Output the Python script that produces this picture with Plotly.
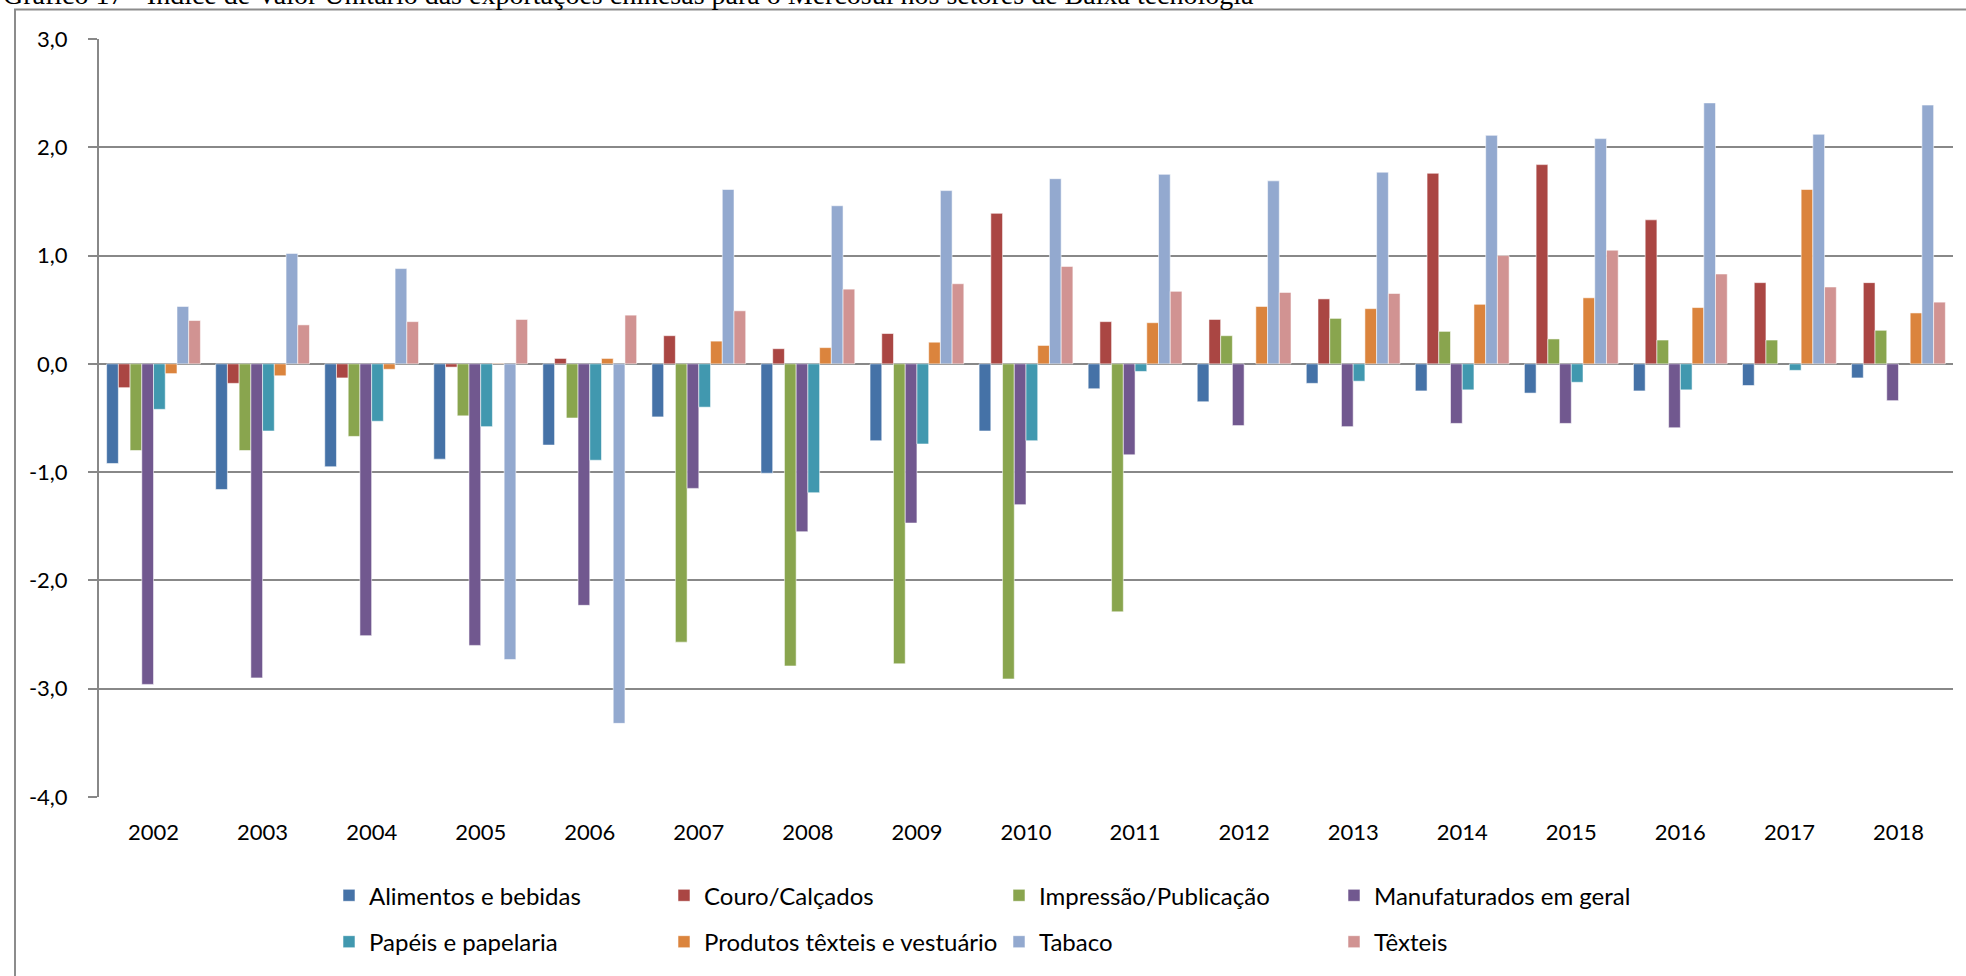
import plotly.graph_objects as go

years = [str(y) for y in range(2002, 2019)]

series_names = [
    "Alimentos e bebidas", "Couro/Calçados", "Impressão/Publicação", "Manufaturados em geral",
    "Papéis e papelaria", "Produtos têxteis e vestuário", "Tabaco", "Têxteis",
]

alimentos = [-0.92, -1.16, -0.95, -0.88, -0.75, -0.49, -1.01, -0.71, -0.62, -0.23, -0.35, -0.18, -0.25, -0.27, -0.25, -0.20, -0.13]
couro = [-0.22, -0.18, -0.13, -0.03, 0.05, 0.26, 0.14, 0.28, 1.39, 0.39, 0.41, 0.60, 1.76, 1.84, 1.33, 0.75, 0.75]
impressao = [-0.80, -0.80, -0.67, -0.48, -0.50, -2.57, -2.79, -2.77, -2.91, -2.29, 0.26, 0.42, 0.30, 0.23, 0.22, 0.22, 0.31]
manufaturados = [-2.96, -2.90, -2.51, -2.60, -2.23, -1.15, -1.55, -1.47, -1.30, -0.84, -0.57, -0.58, -0.55, -0.55, -0.59, None, -0.34]
papeis = [-0.42, -0.62, -0.53, -0.58, -0.89, -0.40, -1.19, -0.74, -0.71, -0.07, None, -0.16, -0.24, -0.17, -0.24, -0.06, None]
produtos_texteis = [-0.09, -0.11, -0.05, 0.005, 0.05, 0.21, 0.15, 0.20, 0.17, 0.38, 0.53, 0.51, 0.55, 0.61, 0.52, 1.61, 0.47]
tabaco = [0.53, 1.02, 0.88, -2.73, -3.32, 1.61, 1.46, 1.60, 1.71, 1.75, 1.69, 1.77, 2.11, 2.08, 2.41, 2.12, 2.39]
texteis = [0.40, 0.36, 0.39, 0.41, 0.45, 0.49, 0.69, 0.74, 0.90, 0.67, 0.66, 0.65, 1.00, 1.05, 0.83, 0.71, 0.57]

y_tick_values = [-4, -3, -2, -1, 0, 1, 2, 3]
y_tick_labels = [f"{v:.1f}".replace(".", ",") for v in y_tick_values]

values = [alimentos, couro, impressao, manufaturados, papeis, produtos_texteis, tabaco, texteis]
colors = ["#4572A7", "#AA4643", "#89A54E", "#71588F", "#4198AF", "#DB843D", "#93A9CF", "#D19392"]

title_text = ("Gráfico 17 - Índice de Valor Unitário das exportações chinesas para o Mercosul "
              "nos setores de Baixa tecnologia")

W, H = 1966, 976
L, R, T, B = 99, 13, 39, 169
PW, PH = W - L - R, H - T - B

def px_x(p):
    return (p - L) / PW

def px_y(p):
    return (H - B - p) / PH

grey = "#888888"
font_family = "Lato, 'Open Sans', sans-serif"

fig = go.Figure()
for i, (name, vals, col) in enumerate(zip(series_names, values, colors)):
    fig.add_trace(go.Bar(
        x=years, y=vals, name=name,
        marker=dict(color=col, line=dict(color="rgba(255,255,255,0.55)", width=1)),
        legend="legend" if i < 4 else "legend2",
    ))

legend_common = dict(orientation="h", xanchor="left", yanchor="middle",
                     entrywidth=290, entrywidthmode="pixels",
                     font=dict(size=24, family=font_family),
                     bgcolor="rgba(0,0,0,0)", itemclick=False)

fig.update_layout(
    width=W, height=H,
    margin=dict(l=L, r=R, t=T, b=B, pad=0),
    paper_bgcolor="white", plot_bgcolor="white",
    barmode="group", bargap=0.14, bargroupgap=0,
    font=dict(family=font_family, size=22, color="#000000"),
    showlegend=True,
    legend=dict(x=px_x(329), y=px_y(907), **legend_common),
    legend2=dict(x=px_x(329), y=px_y(954), **legend_common),
    xaxis=dict(type="category", categoryorder="array", categoryarray=years,
               showgrid=False, showline=False, ticks="", zeroline=False,
               ticklabelstandoff=20, tickfont=dict(size=22)),
    xaxis2=dict(overlaying="x", anchor="free", position=(0 - (-4)) / 7,
                range=[-0.5, len(years) - 0.5],
                tickmode="array", tickvals=[k + 0.5 for k in range(len(years))],
                ticks="outside", ticklen=6, tickwidth=2, tickcolor=grey,
                showticklabels=False, showgrid=False, showline=False, zeroline=False),
    yaxis=dict(range=[-4, 3], tickmode="array", tickvals=y_tick_values, ticktext=y_tick_labels,
               showgrid=True, gridcolor=grey, gridwidth=2,
               zeroline=False, showline=True, linecolor=grey, linewidth=2,
               ticks="outside", ticklen=9, tickwidth=2, tickcolor=grey,
               ticklabelstandoff=16, tickfont=dict(size=22)),
)

# outer frame of the chart object (extends beyond the captured area on right/bottom)
fig.add_shape(type="rect", xref="paper", yref="paper",
              x0=px_x(15), x1=px_x(W + 20), y0=px_y(H + 20), y1=px_y(9),
              line=dict(color="#8c8c8c", width=2), fillcolor="rgba(0,0,0,0)", layer="below")

# document caption, cut off at the top of the capture
fig.add_annotation(text=title_text, xref="paper", yref="paper",
                   x=px_x(1), y=px_y(12), xanchor="left", yanchor="bottom",
                   showarrow=False, font=dict(family="'Liberation Serif', 'Times New Roman', serif",
                                              size=28, color="#000000"))

fig.write_html("out.html", config={"displayModeBar": False},
               post_script="document.body.style.margin='0';document.body.style.overflow='hidden';")
